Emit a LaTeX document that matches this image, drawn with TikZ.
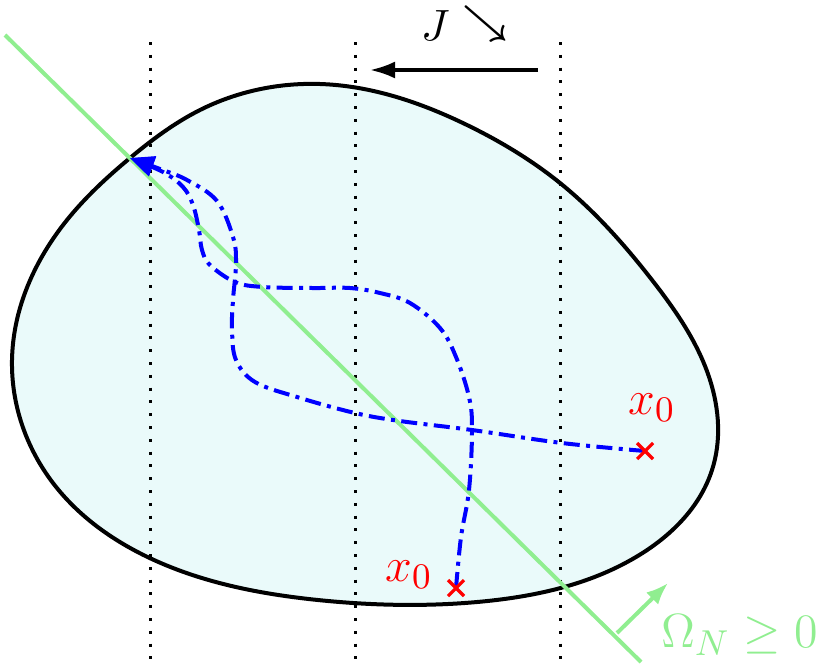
\documentclass[tikz,border=0pt]{standalone}
\usetikzlibrary{arrows.meta,hobby}
\definecolor{lgreen}{RGB}{144,238,144}
\definecolor{blobfill}{RGB}{234,250,250}
\begin{document}
\begin{tikzpicture}[x=0.25pt,y=-0.25pt,
  blob/.style={draw=black,line width=1pt,fill=blobfill},
  vdots/.style={draw=black,line width=0.75pt,dash pattern=on 0.75pt off 2.45pt},
  gline/.style={draw=lgreen,line width=1pt},
  traj/.style={draw=blue,line width=1pt,dash pattern=on 4pt off 1.6pt on 1pt off 1.6pt,
     -{Triangle[length=6pt,width=5pt]},fill=none},
  cross/.style={draw=red,line width=0.8pt},
  lbl/.style={inner sep=0pt,outer sep=0pt}]
\useasboundingbox (0,0) rectangle (830,664);
% region
\path[blob,use Hobby shortcut,closed=true]
 (12,360) .. (53,483) .. (154,560) .. (318,600) .. (477,602) .. (636,557)
 .. (712,470) .. (710,380) .. (652,280) .. (560,183) .. (467,125) .. (320,84)
 .. (200,110) .. (130,158) .. (67,220);
% vertical dotted lines
\coordinate (d1t) at (150,42); \coordinate (d1b) at (150,660);
\coordinate (d2t) at (355,42); \coordinate (d2b) at (355,660);
\coordinate (d3t) at (560,42); \coordinate (d3b) at (560,660);
\draw[vdots] (d1t) -- (d1b);
\draw[vdots] (d2t) -- (d2b);
\draw[vdots] (d3t) -- (d3b);
% green line and normal arrow
\coordinate (g1) at (5,35); \coordinate (g2) at (641,662);
\draw[gline] (g1) -- (g2);
\coordinate (n1) at (617,633); \coordinate (n2) at (668,583);
\draw[gline,-{Latex[length=5.5pt,width=4.25pt]}] (n1) -- (n2);
\node[lbl,anchor=base west,text=lgreen,font=\fontsize{13}{15}\selectfont] (om) at (661,647) {$\Omega_N \geq 0$};
% top arrow and J
\coordinate (a1) at (538,70); \coordinate (a2) at (370,70);
\draw[line width=0.85pt,-{Latex[length=6.25pt,width=4.25pt]}] (a1) -- (a2);
\node[lbl,anchor=base west,font=\fontsize{11}{13}\selectfont] (J) at (421,40) {$J$};
\node[lbl,anchor=base west,font=\fontsize{10}{12}\selectfont\boldmath] (se) at (462,34) {$\searrow$};
% trajectories
\draw[traj] plot[smooth,tension=0.6] coordinates {
 (645,451) (562,443) (472,430) (400,421) (355,413) (297,397) (255,382) (236,360)
 (232,330) (233,300) (236,263) (233,237) (217,201) (187,180) (160,169) (130,158)};
\draw[traj] plot[smooth,tension=0.6] coordinates {
 (456,588) (461,537) (469,490) (472,430) (469,397) (456,357) (440,328) (410,303)
 (380,293) (350,288) (313,288) (263,287) (235,282) (210,265) (202,250) (199,230)
 (193,205) (183,187) (163,172) (130,158)};
% initial points
\coordinate (p1) at (645,451);
\coordinate (p2) at (456,588);
\draw[cross] ([shift={(-8,-8)}]p1) -- ([shift={(8,8)}]p1) ([shift={(-8,8)}]p1) -- ([shift={(8,-8)}]p1);
\draw[cross] ([shift={(-8,-8)}]p2) -- ([shift={(8,8)}]p2) ([shift={(-8,8)}]p2) -- ([shift={(8,-8)}]p2);
\node[lbl,text=red,font=\fontsize{13}{15}\selectfont] (x1) at (652,408) {$x_0$};
\node[lbl,text=red,font=\fontsize{13}{15}\selectfont] (x2) at (409,575) {$x_0$};
\end{tikzpicture}
\end{document}
